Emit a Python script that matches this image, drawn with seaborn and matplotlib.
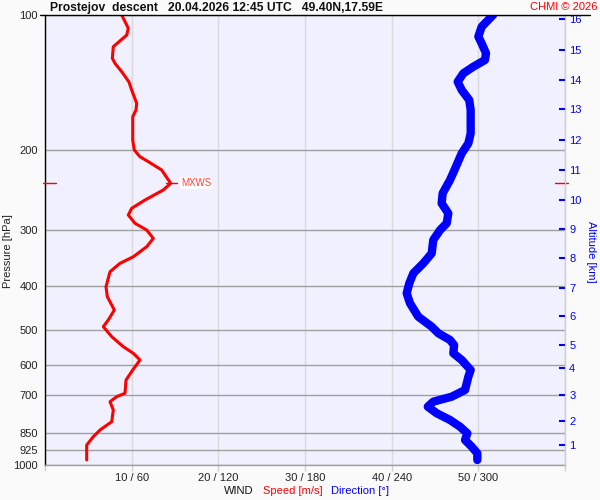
import numpy as np
import pandas as pd
import matplotlib
matplotlib.use("Agg")
import matplotlib.pyplot as plt
import matplotlib.transforms as mtransforms
from matplotlib.lines import Line2D
from matplotlib.ticker import NullLocator, FixedLocator
import seaborn as sns

# ---------------- data ----------------
speed_pressure = [100.0, 107.0, 110.8, 117.6, 124.8, 128.1, 133.9, 140.9, 146.8, 157.1,
                  162.6, 168.3, 189.6, 199.5, 206.5, 211.8, 221.0, 236.6, 244.8, 257.7,
                  268.9, 278.3, 290.3, 300.5, 313.6, 327.3, 344.5, 356.3, 372.0, 401.6,
                  422.7, 452.4, 476.1, 492.7, 518.6, 545.8, 564.6, 584.3, 615.0, 647.3,
                  692.8, 704.9, 723.2, 754.6, 801.2, 836.0, 865.2, 902.8, 974.7]
speed_ms = [8.85, 9.61, 9.43, 7.88, 7.77, 8.08, 8.88, 9.69, 10.0, 10.58,
            10.5, 10.12, 10.12, 10.3, 10.96, 11.92, 13.46, 14.5, 13.65, 11.54,
            10.0, 9.61, 10.38, 11.73, 12.5, 11.73, 10.19, 8.65, 7.5, 7.04,
            7.19, 8.0, 7.3, 6.73, 7.7, 9.03, 10.19, 10.96, 10.12, 9.35,
            9.23, 8.27, 7.5, 7.88, 7.7, 6.35, 5.57, 4.81, 4.81]

dir_pressure = [100.0, 106.2, 111.7, 115.6, 121.6, 125.9, 130.3, 134.8, 140.7, 146.8,
                154.5, 162.6, 183.2, 192.8, 202.9, 217.3, 232.6, 249.0, 262.1, 275.9,
                290.3, 300.5, 316.2, 338.6, 356.3, 375.0, 394.7, 415.4, 437.2, 468.1,
                492.7, 509.6, 527.5, 541.2, 564.6, 584.3, 615.0, 636.5, 681.3, 704.9,
                723.2, 742.0, 767.5, 794.3, 822.0, 850.4, 879.9, 910.7, 941.9, 974.7]
direction_deg = [310.2, 302.3, 300.0, 302.3, 305.3, 304.6, 296.5, 289.6, 285.7, 288.5,
                 293.7, 294.7, 294.7, 293.1, 288.5, 284.5, 280.4, 275.3, 274.6, 279.2,
                 278.1, 273.5, 268.8, 267.7, 261.9, 255.0, 252.2, 250.4, 252.7, 258.4,
                 267.7, 272.3, 280.4, 283.2, 282.7, 288.5, 294.7, 293.1, 290.8, 281.6,
                 268.8, 265.0, 271.2, 280.4, 287.3, 292.4, 290.8, 295.4, 299.3, 299.3]

pressure_ticks = [100, 200, 300, 400, 500, 600, 700, 850, 925, 1000]
speed_ticks = [10, 20, 30, 40, 50]
speed_tick_labels = ["10 / 60", "20 / 120", "30 / 180", "40 / 240", "50 / 300"]
altitude_km = [1, 2, 3, 4, 5, 6, 7, 8, 9, 10, 11, 12, 13, 14, 15, 16]
altitude_pressure = [900.5, 800.4, 699.3, 608.7, 541.2, 466.5, 404.9, 347.3, 298.5,
                     257.7, 221.0, 189.6, 162.0, 139.7, 119.8, 102.1]
mxws_pressure = 236.6
mxws_speed = 14.5

title = "Prostejov  descent   20.04.2026 12:45 UTC   49.40N,17.59E"

# ---------------- style ----------------
sns.set_style("white")
plt.rcParams['font.family'] = ['Liberation Sans', 'DejaVu Sans']

W, H = 600, 500
fig = plt.figure(figsize=(6, 5), dpi=100, facecolor='#FAFAFA')
ax = fig.add_axes([45 / W, 35 / H, 520 / W, 450 / H])
ax.set_facecolor('#F0F0FF')

ax.set_yscale('log')
ax.set_ylim(1000, 100)
ax.set_xlim(0, 60)

# direction axis (0-360 on same width)
axd = ax.twiny()
axd.set_xlim(0, 360)
axd.set_yscale('log')
axd.set_ylim(1000, 100)
axd.axis('off')

sns.lineplot(x=speed_ms, y=speed_pressure, sort=False, estimator=None, ax=ax,
             color='#FF0000', lw=2.2, solid_joinstyle='round', zorder=4)
sns.lineplot(x=direction_deg, y=dir_pressure, sort=False, estimator=None, ax=axd,
             color='#0000FF', lw=6.0, solid_capstyle='round', solid_joinstyle='round',
             zorder=4)

# grid and ticks
ax.yaxis.set_major_locator(FixedLocator(pressure_ticks))
ax.yaxis.set_minor_locator(NullLocator())
ax.set_yticklabels([str(p) for p in pressure_ticks])
ax.set_xticks([0] + speed_ticks + [60])
ax.set_xticklabels([""] + speed_tick_labels + [""])
ax.set_axisbelow(True)
ax.yaxis.grid(True, color='#A0A0A0', lw=1.0)
ax.xaxis.grid(True, color='#DADADA', lw=1.0)
ax.tick_params(axis='y', length=0, pad=5, labelsize=8, labelcolor='#222222')
ax.tick_params(axis='x', length=4, width=1.0, color='#D0D0D0', pad=2,
               labelsize=8, labelcolor='#222222')
ax.xaxis.get_major_ticks()[0].tick1line.set_color('black')
ax.set_xlabel("")
ax.set_ylabel("")

ax.spines['top'].set_visible(False)
ax.spines['left'].set_color('black')
ax.spines['left'].set_linewidth(1.0)
ax.spines['bottom'].set_color('#A0A0A0')
ax.spines['bottom'].set_linewidth(1.0)
ax.spines['right'].set_color('#D0D0D0')
ax.spines['right'].set_linewidth(1.0)

# altitude axis on the right
axr = ax.twinx()
axr.set_yscale('log')
axr.set_ylim(1000, 100)
axr.yaxis.set_major_locator(FixedLocator(altitude_pressure))
axr.yaxis.set_minor_locator(NullLocator())
axr.set_yticklabels([str(a) for a in altitude_km])
axr.tick_params(axis='y', direction='in', length=4, width=1.5, color='#0000FF',
                labelcolor='#0000FF', labelsize=8, pad=3)
for s in ['top', 'left', 'bottom']:
    axr.spines[s].set_visible(False)
axr.spines['right'].set_color('#D0D0D0')

# top border line
fig.add_artist(Line2D([40 / W, 590 / W], [1 - 15 / H, 1 - 15 / H], color='black',
                      lw=1.0, transform=fig.transFigure))

# MXWS marks
tr = mtransforms.blended_transform_factory(fig.transFigure, ax.transData)
for x0, x1 in [(43, 56), (555, 568), (166, 177)]:
    ln = Line2D([x0 / W, x1 / W], [mxws_pressure, mxws_pressure], color='#FF0000',
                lw=1.0, transform=tr, clip_on=False, zorder=6)
    ax.add_artist(ln)
ax.text(181 / W, mxws_pressure, "MXWS", transform=tr, fontsize=7, color='#FF4040',
        ha='left', va='center', zorder=6,
        bbox=dict(facecolor='white', edgecolor='none', pad=0.6))

# texts
fig.text(50 / W, 1 - 8 / H, title, fontsize=8.7, fontweight='bold', ha='left',
         va='center', color='#111111')
fig.text(597 / W, 1 - 7 / H, "CHMI © 2026", fontsize=8, color='#FF0000',
         ha='right', va='center')
fig.text(8 / W, 1 - 251 / H, "Pressure [hPa]", fontsize=8, rotation=90,
         ha='center', va='center', color='#222222')
fig.text(591 / W, 1 - 252 / H, "Altitude [km]", fontsize=8, rotation=270,
         ha='center', va='center', color='#0000FF')
fig.text(239 / W, 1 - 491 / H, "WIND", fontsize=8, ha='center', va='center',
         color='#111111')
fig.text(293 / W, 1 - 491 / H, "Speed [m/s]", fontsize=8, ha='center', va='center',
         color='#FF0000')
fig.text(360 / W, 1 - 491 / H, "Direction [°]", fontsize=8, ha='center',
         va='center', color='#0000FF')

fig.savefig("out.png", dpi=100, facecolor=fig.get_facecolor())
